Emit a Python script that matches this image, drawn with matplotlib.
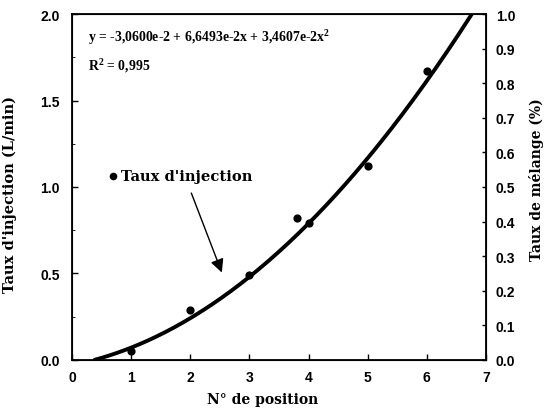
import numpy as np
import matplotlib
matplotlib.use("Agg")
import matplotlib.pyplot as plt

positions = [1.0, 2.0, 3.0, 3.8, 4.0, 5.0, 6.0]
taux_injection = [0.05, 0.29, 0.49, 0.82, 0.79, 1.12, 1.67]

# ajustement polynomial (coefficients de l'équation affichée)
coef = [-3.0600e-2, 6.6493e-2, 3.4607e-2]
x_fit = np.linspace(0.38, 6.76, 200)
y_fit = coef[0] + coef[1] * x_fit + coef[2] * x_fit**2

plt.rcParams["font.family"] = ["Liberation Serif", "DejaVu Serif"]
plt.rcParams["font.weight"] = "bold"
plt.rcParams["mathtext.fontset"] = "custom"
plt.rcParams["mathtext.bf"] = "Liberation Serif:bold"
tick_font = dict(family="Liberation Sans", weight="bold", size=10)
label_font = dict(family="DejaVu Serif", weight="bold", size=10)

fig = plt.figure(figsize=(5.46, 4.10), dpi=100)
ax = fig.add_axes([0.132, 0.12, 0.758, 0.843])

ax.plot(x_fit, y_fit, color="black", lw=2.8, solid_capstyle="round")
ax.scatter(positions, taux_injection, color="black", s=24, zorder=3)

ax.set_xlim(0, 7)
ax.set_ylim(0, 2.0)
ax.set_xticks(range(8))
ax.set_yticks([0, 0.5, 1.0, 1.5, 2.0])
ax.set_yticks(np.arange(0, 2.01, 0.25), minor=True)
ax.set_xticklabels([str(i) for i in range(8)], fontdict=tick_font)
ax.set_yticklabels(["0.0", "0.5", "1.0", "1.5", "2.0"], fontdict=tick_font)
ax.tick_params(direction="in", length=4, width=1)
ax.tick_params(axis="y", pad=9)
ax.tick_params(axis="x", pad=7)
ax.tick_params(which="minor", direction="in", length=2)
for s in ax.spines.values():
    s.set_linewidth(1.3)

ax.set_xlabel("N° de position", fontdict=label_font)
ax.xaxis.set_label_coords(0.461, -0.092)
ax.set_ylabel("Taux d'injection (L/min)", fontdict=dict(label_font, size=10.5))
ax.yaxis.set_label_coords(-0.133, 0.48)

ax2 = ax.twinx()
ax2.set_ylim(0, 1.0)
ax2.set_yticks(np.arange(0, 1.01, 0.1))
ax2.set_yticklabels([f"{v:.1f}" for v in np.arange(0, 1.01, 0.1)], fontdict=tick_font)
ax2.tick_params(direction="in", length=3, width=1, pad=7)
ax2.set_ylabel("Taux de mélange (%)", fontdict=label_font)
ax2.yaxis.set_label_coords(1.104, 0.523)

ax.text(0.27, 1.87, "y = -3,0600e-2 + 6,6493e-2x + 3,4607e-2x$^\\mathbf{2}$",
        fontsize=9.9, fontweight="bold", va="center")
ax.text(0.27, 1.71, "R$^\\mathbf{2}$ = 0,995", fontsize=9.9, fontweight="bold", va="center")

ax.scatter([0.7], [1.065], color="black", s=20)
ax.text(0.82, 1.065, "Taux d'injection", fontdict=dict(label_font, size=10.6), va="center")
ax.annotate("", xy=(2.55, 0.49), xytext=(2.0, 0.98),
            arrowprops=dict(arrowstyle="-|>", color="black", lw=1.0,
                            mutation_scale=20))

fig.savefig("out.png", dpi=100)
